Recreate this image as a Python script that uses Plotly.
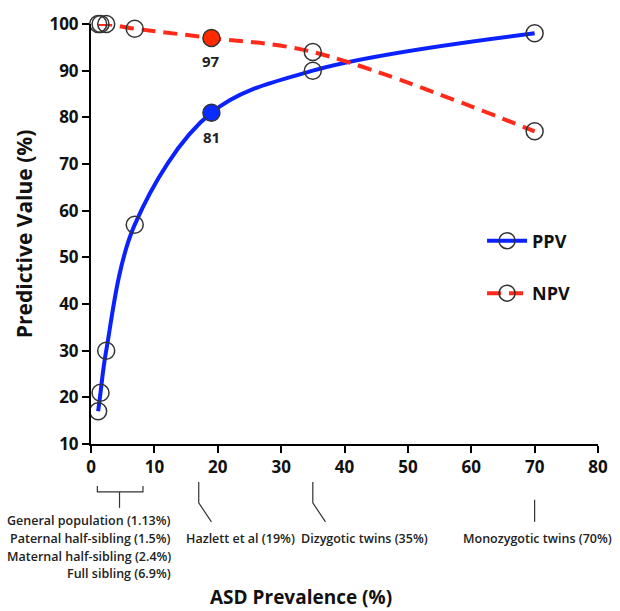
import plotly.graph_objects as go

prevalence = [1.13, 1.5, 2.4, 6.9, 19, 35, 70]
ppv = [17, 21, 30, 57, 81, 90, 98]
npv = [100, 100, 100, 99, 97, 94, 77]
highlight_x = 19
CLEAR = 'rgba(255,255,255,0)'
ppv_fill = [CLEAR, CLEAR, CLEAR, CLEAR, '#0a2cff', CLEAR, CLEAR]
npv_fill = [CLEAR, CLEAR, CLEAR, CLEAR, '#ff2a00', CLEAR, CLEAR]

x_ticks = [0, 10, 20, 30, 40, 50, 60, 70, 80]
y_ticks = [10, 20, 30, 40, 50, 60, 70, 80, 90, 100]

group_label = ["General population (1.13%)", "Paternal half-sibling (1.5%)",
               "Maternal half-sibling (2.4%)", "Full sibling (6.9%)"]
# (line x, label text, label center x)
callouts = [(17, "Hazlett et al (19%)", 23.6),
            (35, "Dizygotic twins (35%)", 43.2)]
mono = (70, "Monozygotic twins (70%)")

FONT = "Open Sans"

# plot area in page pixels: x 91..607, y 23..444
def py(y):
    return (444 - y) / 421.0

def px(x):
    return (x - 91) / 516.0

fig = go.Figure()
fig.add_trace(go.Scatter(
    x=prevalence, y=ppv, name="PPV", mode="lines+markers",
    line=dict(color="#0a22ff", width=4, shape="spline", smoothing=1.0),
    marker=dict(size=17, color=ppv_fill, line=dict(color="#333333", width=1.5)),
    cliponaxis=False, legendgroup="a"))
fig.add_trace(go.Scatter(
    x=prevalence, y=npv, name="NPV", mode="lines+markers",
    line=dict(color="#ff2a1a", width=4, shape="spline", smoothing=1.0, dash="14px,8px"),
    marker=dict(size=17, color=npv_fill, line=dict(color="#333333", width=1.5)),
    cliponaxis=False, legendgroup="b"))

ann = []
ann.append(dict(x=highlight_x, y=npv[prevalence.index(highlight_x)], text="97",
                showarrow=False, yshift=-23,
                font=dict(family=FONT, size=15, color="#222", weight="bold")))
ann.append(dict(x=highlight_x, y=ppv[prevalence.index(highlight_x)], text="81",
                showarrow=False, yshift=-24,
                font=dict(family=FONT, size=15, color="#222", weight="bold")))

shapes = []
lc = dict(color="#333333", width=1.2)
# bracket for the low prevalence group
shapes.append(dict(type="path", xref="x", yref="paper",
                   path=f"M 1,{py(486)} L 1,{py(492)} L 8.2,{py(492)} L 8.2,{py(486)}", line=lc))
shapes.append(dict(type="line", xref="x", yref="paper", x0=4.5, x1=4.5, y0=py(492), y1=py(508), line=lc))
for i, t in enumerate(group_label):
    ann.append(dict(xref="paper", yref="paper", x=px(174), y=py(521 + 17.7 * i),
                    text=t, showarrow=False, xanchor="right", yanchor="middle",
                    font=dict(family=FONT, size=12.5, color="#222", weight=600)))
for xs, t, xt in callouts:
    shapes.append(dict(type="path", xref="x", yref="paper",
                       path=f"M {xs},{py(482)} L {xs},{py(503)} L {xs + 2},{py(522)}", line=lc))
    ann.append(dict(xref="x", yref="paper", x=xt, y=py(539), text=t, showarrow=False,
                    xanchor="center", yanchor="middle",
                    font=dict(family=FONT, size=12.5, color="#222", weight=600)))
shapes.append(dict(type="line", xref="x", yref="paper", x0=mono[0], x1=mono[0],
                   y0=py(500), y1=py(522), line=lc))
ann.append(dict(xref="x", yref="paper", x=mono[0] + 0.5, y=py(539), text=mono[1], showarrow=False,
                xanchor="center", yanchor="middle",
                font=dict(family=FONT, size=12.5, color="#222", weight=600)))

ann.append(dict(xref="paper", yref="paper", x=px(305), y=py(597), text="ASD Prevalence (%)",
                showarrow=False, xanchor="center", yanchor="middle",
                font=dict(family=FONT, size=19, color="#111", weight="bold")))
ann.append(dict(xref="paper", yref="paper", x=px(23), y=0.5, text="Predictive Value (%)",
                showarrow=False, textangle=-90, xanchor="center", yanchor="middle",
                font=dict(family=FONT, size=21, color="#111", weight="bold")))

axis_common = dict(showline=True, linecolor="black", linewidth=2, showgrid=False,
                   zeroline=False, ticks="outside", ticklen=7, tickwidth=2, tickcolor="black",
                   tickfont=dict(family=FONT, size=17, color="#111", weight="bold"))

fig.update_layout(
    width=620, height=611,
    margin=dict(l=91, r=13, t=23, b=167),
    paper_bgcolor="white", plot_bgcolor="white",
    xaxis=dict(range=[0, 80], tickvals=x_ticks, **axis_common),
    yaxis=dict(range=[10, 100], tickvals=y_ticks, **axis_common),
    showlegend=True,
    legend=dict(x=px(489), y=py(222), xanchor="left", yanchor="top",
                traceorder="grouped", tracegroupgap=26, itemwidth=40,
                font=dict(family=FONT, size=18, color="#111", weight="bold"),
                bgcolor="rgba(0,0,0,0)"),
    annotations=ann, shapes=shapes,
)

fig.write_html("out.html", config={"responsive": False, "displayModeBar": False},
               post_script="document.body.style.margin='0';document.body.style.overflow='hidden';")
